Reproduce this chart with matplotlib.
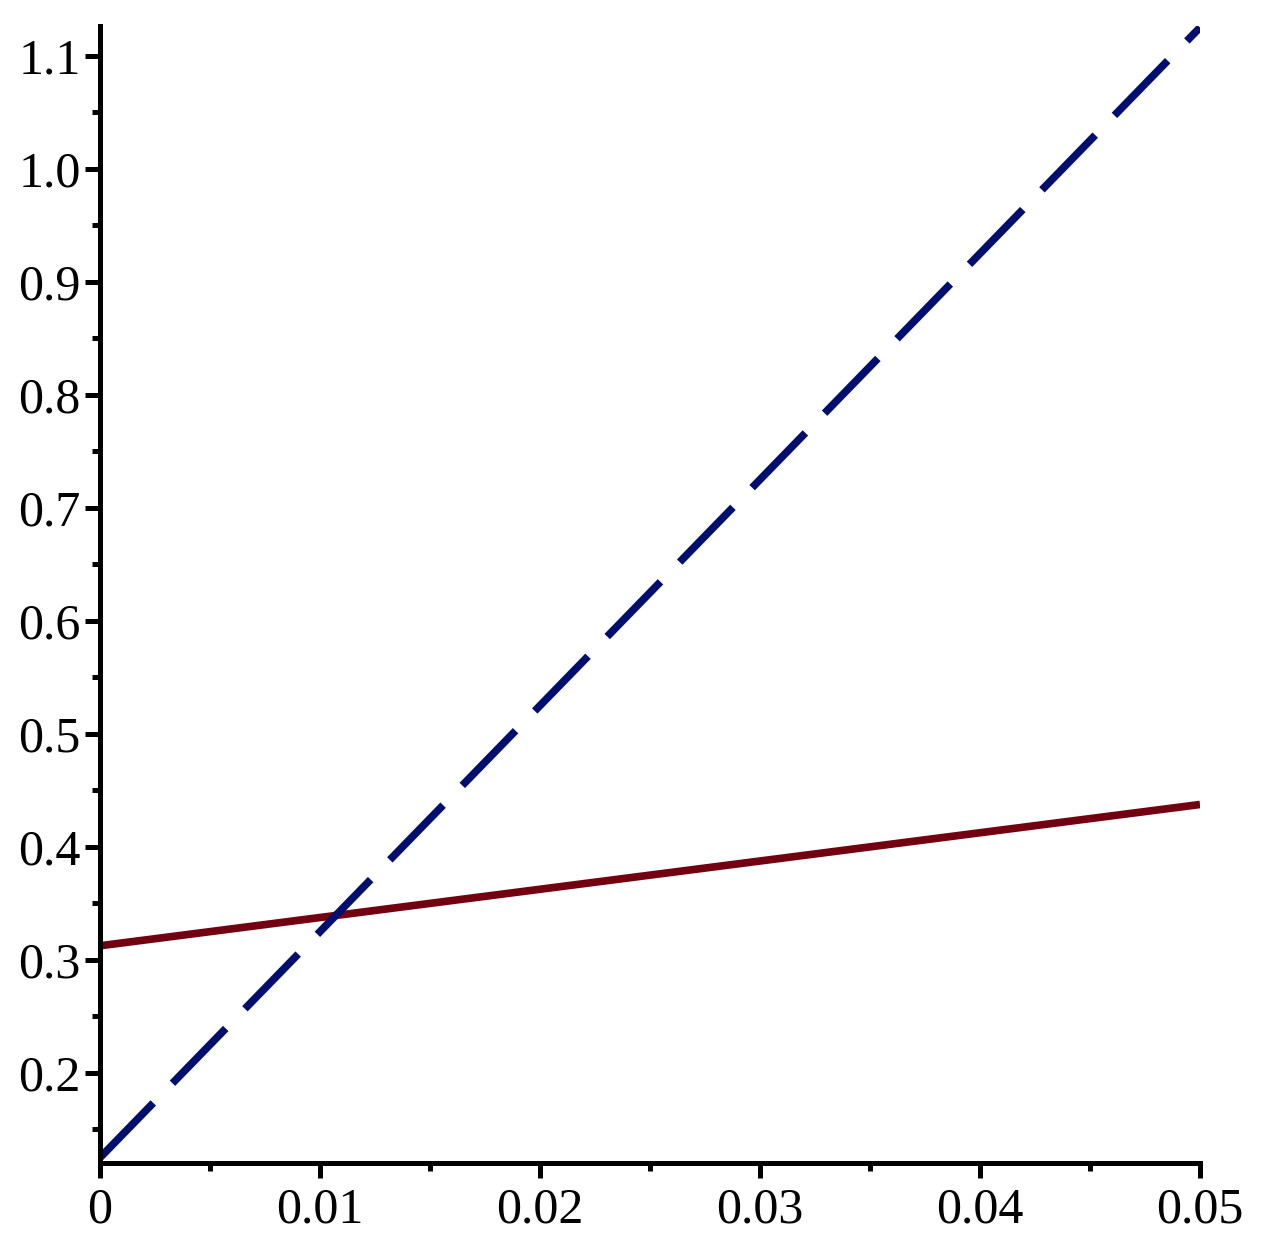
import matplotlib
matplotlib.use("Agg")
import matplotlib.pyplot as plt
from matplotlib.ticker import MultipleLocator

x = [0.0, 0.01, 0.02, 0.03, 0.04, 0.05]
red_vals = [0.3125, 0.3375, 0.3625, 0.3875, 0.4125, 0.4375]
blue_vals = [0.125, 0.325, 0.525, 0.725, 0.925, 1.125]
x_ticks = [0.0, 0.01, 0.02, 0.03, 0.04, 0.05]
x_labels = ["0", "0.01", "0.02", "0.03", "0.04", "0.05"]
y_ticks = [0.2, 0.3, 0.4, 0.5, 0.6, 0.7, 0.8, 0.9, 1.0, 1.1]

plt.rcParams["font.family"] = ["Liberation Serif", "DejaVu Serif"]

fig = plt.figure(figsize=(12.78, 12.41), dpi=100)
ax = fig.add_axes([100 / 1278, 1 - 1163 / 1241, 1100 / 1278, (1163 - 26) / 1241])

ax.plot(x, red_vals, color="#720010", lw=5.5, solid_capstyle="butt")
ax.plot(x, blue_vals, color="#000e6e", lw=5.5, dashes=(10, 3.6), dash_capstyle="butt")

ax.set_xlim(0, 0.05)
ax.set_ylim(0.1203, 1.1263)
ax.set_xticks(x_ticks)
ax.set_xticklabels(x_labels)
ax.set_yticks(y_ticks)
ax.set_yticklabels([f"{v:.1f}" for v in y_ticks])
ax.xaxis.set_minor_locator(MultipleLocator(0.005))
ax.yaxis.set_minor_locator(MultipleLocator(0.05))

for s in ["top", "right"]:
    ax.spines[s].set_visible(False)
for s in ["left", "bottom"]:
    ax.spines[s].set_linewidth(3.6)

ax.tick_params(which="major", length=11, width=3.6, labelsize=36, pad=3)
ax.tick_params(which="minor", length=5.5, width=3.6)
ax.tick_params(axis="x", which="major", pad=6)

fig.savefig("out.png", dpi=100)
plt.close(fig)
